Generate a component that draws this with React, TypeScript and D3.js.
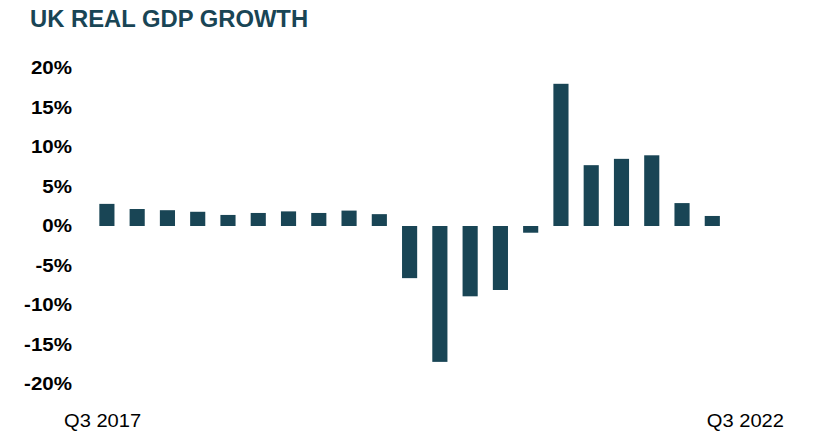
import React from "react";
import * as d3 from "d3";

const quarters = [
  "Q3 2017", "Q4 2017", "Q1 2018", "Q2 2018", "Q3 2018", "Q4 2018", "Q1 2019",
  "Q2 2019", "Q3 2019", "Q4 2019", "Q1 2020", "Q2 2020", "Q3 2020", "Q4 2020",
  "Q1 2021", "Q2 2021", "Q3 2021", "Q4 2021", "Q1 2022", "Q2 2022", "Q3 2022",
];
const growth = [
  2.8, 2.15, 2.0, 1.8, 1.4, 1.65, 1.85, 1.65, 1.95, 1.5,
  -6.6, -17.2, -8.9, -8.1, -0.85, 18.0, 7.7, 8.5, 8.95, 2.9, 1.27,
];
const yTicks = [20, 15, 10, 5, 0, -5, -10, -15, -20];
const xLabels = ["Q3 2017", "Q3 2022"];
const title = "UK REAL GDP GROWTH";

const W = 814;
const H = 436;
const COLOR = "#194555";

export default function App() {
  const x = d3.scaleBand<string>().domain(quarters).range([84.2, 735]).paddingInner(0.5).paddingOuter(0.5);
  const y = d3.scaleLinear().domain([-20, 20]).range([384, 68]);
  return (
    <svg width={W} height={H} style={{ position: "absolute", left: 0, top: 0, background: "#fff" }}
      fontFamily="'Liberation Sans', Arial, sans-serif">
      <text x={30} y={27} fontSize={23.8} fontWeight="bold" fill={COLOR}>{title}</text>
      {yTicks.map((t) => (
        <text key={t} x={72} y={y(t)} dy="0.36em" textAnchor="end" fontSize={18} fontWeight="bold" fill="#000"
          transform={`translate(72,0) scale(1.14,1) translate(-72,0)`}>
          {t}%
        </text>
      ))}
      {growth.map((v, i) => (
        <rect key={i} x={x(quarters[i])} width={x.bandwidth()} y={y(Math.max(0, v))}
          height={Math.abs(y(v) - y(0))} fill={COLOR} />
      ))}
      <text x={64} y={427} fontSize={17.5} fill="#000" transform="translate(64,0) scale(1.15,1) translate(-64,0)">{xLabels[0]}</text>
      <text x={784} y={427} fontSize={17.5} fill="#000" textAnchor="end" transform="translate(784,0) scale(1.15,1) translate(-784,0)">{xLabels[1]}</text>
    </svg>
  );
}
